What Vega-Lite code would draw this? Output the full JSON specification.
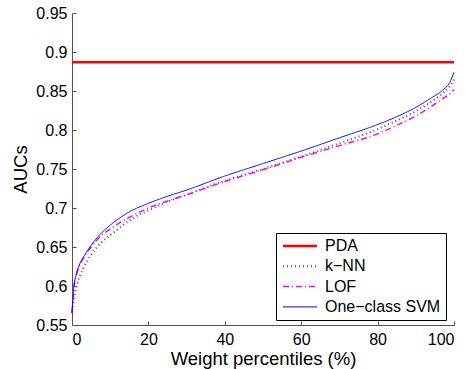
{
  "$schema": "https://vega.github.io/schema/vega-lite/v6.json",
  "width": 382,
  "height": 312,
  "autosize": "none",
  "padding": {"left": 72, "top": 13, "right": 15, "bottom": 44},
  "background": "white",
  "config": {
    "font": "Liberation Sans",
    "view": {"stroke": null},
    "axis": {
      "grid": false,
      "domainColor": "#555555",
      "tickColor": "#555555",
      "tickSize": -4,
      "labelColor": "black",
      "labelFontSize": 16,
      "titleFontSize": 18.5,
      "titleFontWeight": "normal",
      "titleColor": "black"
    }
  },
  "data": {
    "values": [
      {"pct": 0, "auc": 0.887, "method": "PDA"},
      {"pct": 100, "auc": 0.887, "method": "PDA"},

      {"pct": 0, "auc": 0.568, "method": "k−NN"},
      {"pct": 0.5, "auc": 0.585, "method": "k−NN"},
      {"pct": 1, "auc": 0.595, "method": "k−NN"},
      {"pct": 2, "auc": 0.612, "method": "k−NN"},
      {"pct": 3, "auc": 0.623, "method": "k−NN"},
      {"pct": 5, "auc": 0.640, "method": "k−NN"},
      {"pct": 7.5, "auc": 0.655, "method": "k−NN"},
      {"pct": 10, "auc": 0.665, "method": "k−NN"},
      {"pct": 15, "auc": 0.684, "method": "k−NN"},
      {"pct": 20, "auc": 0.697, "method": "k−NN"},
      {"pct": 25, "auc": 0.708, "method": "k−NN"},
      {"pct": 30, "auc": 0.717, "method": "k−NN"},
      {"pct": 40, "auc": 0.735, "method": "k−NN"},
      {"pct": 50, "auc": 0.750, "method": "k−NN"},
      {"pct": 60, "auc": 0.766, "method": "k−NN"},
      {"pct": 70, "auc": 0.783, "method": "k−NN"},
      {"pct": 80, "auc": 0.801, "method": "k−NN"},
      {"pct": 85, "auc": 0.812, "method": "k−NN"},
      {"pct": 90, "auc": 0.824, "method": "k−NN"},
      {"pct": 94, "auc": 0.836, "method": "k−NN"},
      {"pct": 97, "auc": 0.847, "method": "k−NN"},
      {"pct": 99, "auc": 0.857, "method": "k−NN"},
      {"pct": 100, "auc": 0.865, "method": "k−NN"},

      {"pct": 0, "auc": 0.565, "method": "LOF"},
      {"pct": 0.5, "auc": 0.598, "method": "LOF"},
      {"pct": 1, "auc": 0.611, "method": "LOF"},
      {"pct": 2, "auc": 0.626, "method": "LOF"},
      {"pct": 3, "auc": 0.636, "method": "LOF"},
      {"pct": 5, "auc": 0.650, "method": "LOF"},
      {"pct": 7.5, "auc": 0.664, "method": "LOF"},
      {"pct": 10, "auc": 0.673, "method": "LOF"},
      {"pct": 15, "auc": 0.688, "method": "LOF"},
      {"pct": 20, "auc": 0.700, "method": "LOF"},
      {"pct": 25, "auc": 0.709, "method": "LOF"},
      {"pct": 30, "auc": 0.717, "method": "LOF"},
      {"pct": 40, "auc": 0.734, "method": "LOF"},
      {"pct": 50, "auc": 0.749, "method": "LOF"},
      {"pct": 60, "auc": 0.765, "method": "LOF"},
      {"pct": 70, "auc": 0.780, "method": "LOF"},
      {"pct": 80, "auc": 0.795, "method": "LOF"},
      {"pct": 85, "auc": 0.806, "method": "LOF"},
      {"pct": 90, "auc": 0.818, "method": "LOF"},
      {"pct": 94, "auc": 0.830, "method": "LOF"},
      {"pct": 97, "auc": 0.840, "method": "LOF"},
      {"pct": 99, "auc": 0.847, "method": "LOF"},
      {"pct": 100, "auc": 0.852, "method": "LOF"},

      {"pct": 0, "auc": 0.565, "method": "One−class SVM"},
      {"pct": 0.5, "auc": 0.600, "method": "One−class SVM"},
      {"pct": 1, "auc": 0.613, "method": "One−class SVM"},
      {"pct": 2, "auc": 0.628, "method": "One−class SVM"},
      {"pct": 3, "auc": 0.637, "method": "One−class SVM"},
      {"pct": 5, "auc": 0.652, "method": "One−class SVM"},
      {"pct": 7.5, "auc": 0.667, "method": "One−class SVM"},
      {"pct": 10, "auc": 0.678, "method": "One−class SVM"},
      {"pct": 15, "auc": 0.695, "method": "One−class SVM"},
      {"pct": 20, "auc": 0.706, "method": "One−class SVM"},
      {"pct": 25, "auc": 0.715, "method": "One−class SVM"},
      {"pct": 30, "auc": 0.723, "method": "One−class SVM"},
      {"pct": 40, "auc": 0.741, "method": "One−class SVM"},
      {"pct": 50, "auc": 0.757, "method": "One−class SVM"},
      {"pct": 60, "auc": 0.773, "method": "One−class SVM"},
      {"pct": 70, "auc": 0.790, "method": "One−class SVM"},
      {"pct": 80, "auc": 0.807, "method": "One−class SVM"},
      {"pct": 85, "auc": 0.817, "method": "One−class SVM"},
      {"pct": 90, "auc": 0.829, "method": "One−class SVM"},
      {"pct": 94, "auc": 0.841, "method": "One−class SVM"},
      {"pct": 97, "auc": 0.851, "method": "One−class SVM"},
      {"pct": 99, "auc": 0.862, "method": "One−class SVM"},
      {"pct": 100, "auc": 0.874, "method": "One−class SVM"}
    ]
  },
  "mark": {"type": "line", "interpolate": "monotone"},
  "encoding": {
    "x": {
      "field": "pct",
      "type": "quantitative",
      "scale": {"domain": [0, 100], "nice": false},
      "axis": {"values": [0, 20, 40, 60, 80, 100], "title": "Weight percentiles (%)", "titlePadding": 2, "labelPadding": 10}
    },
    "y": {
      "field": "auc",
      "type": "quantitative",
      "scale": {"domain": [0.55, 0.95], "nice": false, "zero": false},
      "axis": {
        "values": [0.55, 0.6, 0.65, 0.7, 0.75, 0.8, 0.85, 0.9, 0.95],
        "format": ".2~f",
        "title": "AUCs",
        "titlePadding": 5,
        "labelPadding": 9
      }
    },
    "color": {
      "field": "method",
      "type": "nominal",
      "scale": {
        "domain": ["PDA", "k−NN", "LOF", "One−class SVM"],
        "range": ["#ff0000", "#555555", "#ff00ff", "#0000ff"]
      },
      "legend": {
        "title": null,
        "orient": "none",
        "legendX": 204,
        "legendY": 220,
        "symbolType": "M-1,0H4.667",
        "symbolSize": 144,
        "labelOffset": 28,
        "labelFontSize": 16,
        "labelColor": "black",
        "rowPadding": 4.3,
        "padding": 5,
        "strokeColor": "black",
        "fillColor": "white"
      }
    },
    "strokeDash": {
      "field": "method",
      "type": "nominal",
      "scale": {
        "domain": ["PDA", "k−NN", "LOF", "One−class SVM"],
        "range": [[1, 0], [1, 3], [6, 3, 1, 3], [1, 0]]
      },
      "legend": null
    },
    "strokeWidth": {
      "field": "method",
      "type": "nominal",
      "scale": {
        "domain": ["PDA", "k−NN", "LOF", "One−class SVM"],
        "range": [2.5, 1, 1, 1]
      },
      "legend": null
    }
  }
}
